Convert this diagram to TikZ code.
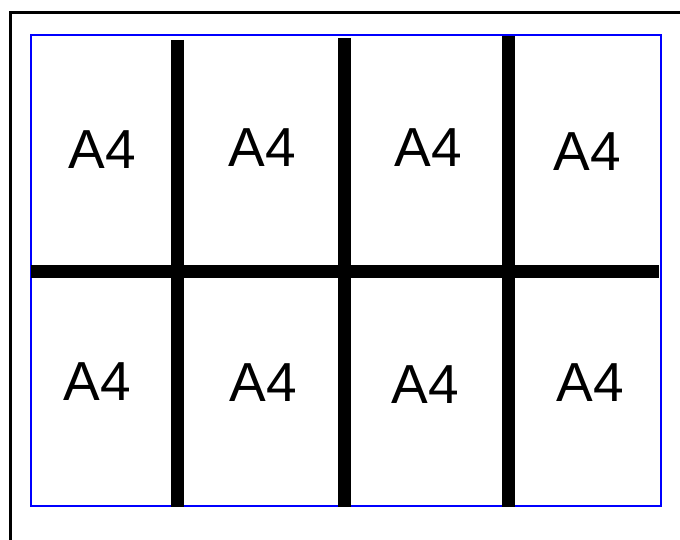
\documentclass[tikz,border=0pt]{standalone}
\usepackage{fontspec}
\setmainfont{Liberation Sans}
\begin{document}
\begin{tikzpicture}[x=1pt,y=-1pt,
  cut/.style={line width=13pt,black,line cap=butt},
  lbl/.style={font=\fontsize{55}{60}\selectfont,inner sep=0pt,anchor=center}]
\useasboundingbox (0,0) rectangle (680,540);
\begin{scope}
\clip (0,0) rectangle (680,540);
\draw[line width=3pt,black] (10,13) rectangle (720,580);
\end{scope}
\draw[line width=2pt,blue] (31,35) rectangle (661,506);
% cuts
\draw[cut] (31,271.5) -- (659,271.5);
\draw[cut] (177,40) -- (177,507);
\draw[cut] (344.5,38) -- (344.5,507);
\draw[cut] (508,36) -- (508,507);
% labels
\node[lbl] (t1) at (102,150) {A4};
\node[lbl] (t2) at (262,148) {A4};
\node[lbl] (t3) at (428,148) {A4};
\node[lbl] (t4) at (587,152) {A4};
\node[lbl] (b1) at (97,382) {A4};
\node[lbl] (b2) at (263,383) {A4};
\node[lbl] (b3) at (425,385) {A4};
\node[lbl] (b4) at (590,383) {A4};
\end{tikzpicture}
\end{document}
